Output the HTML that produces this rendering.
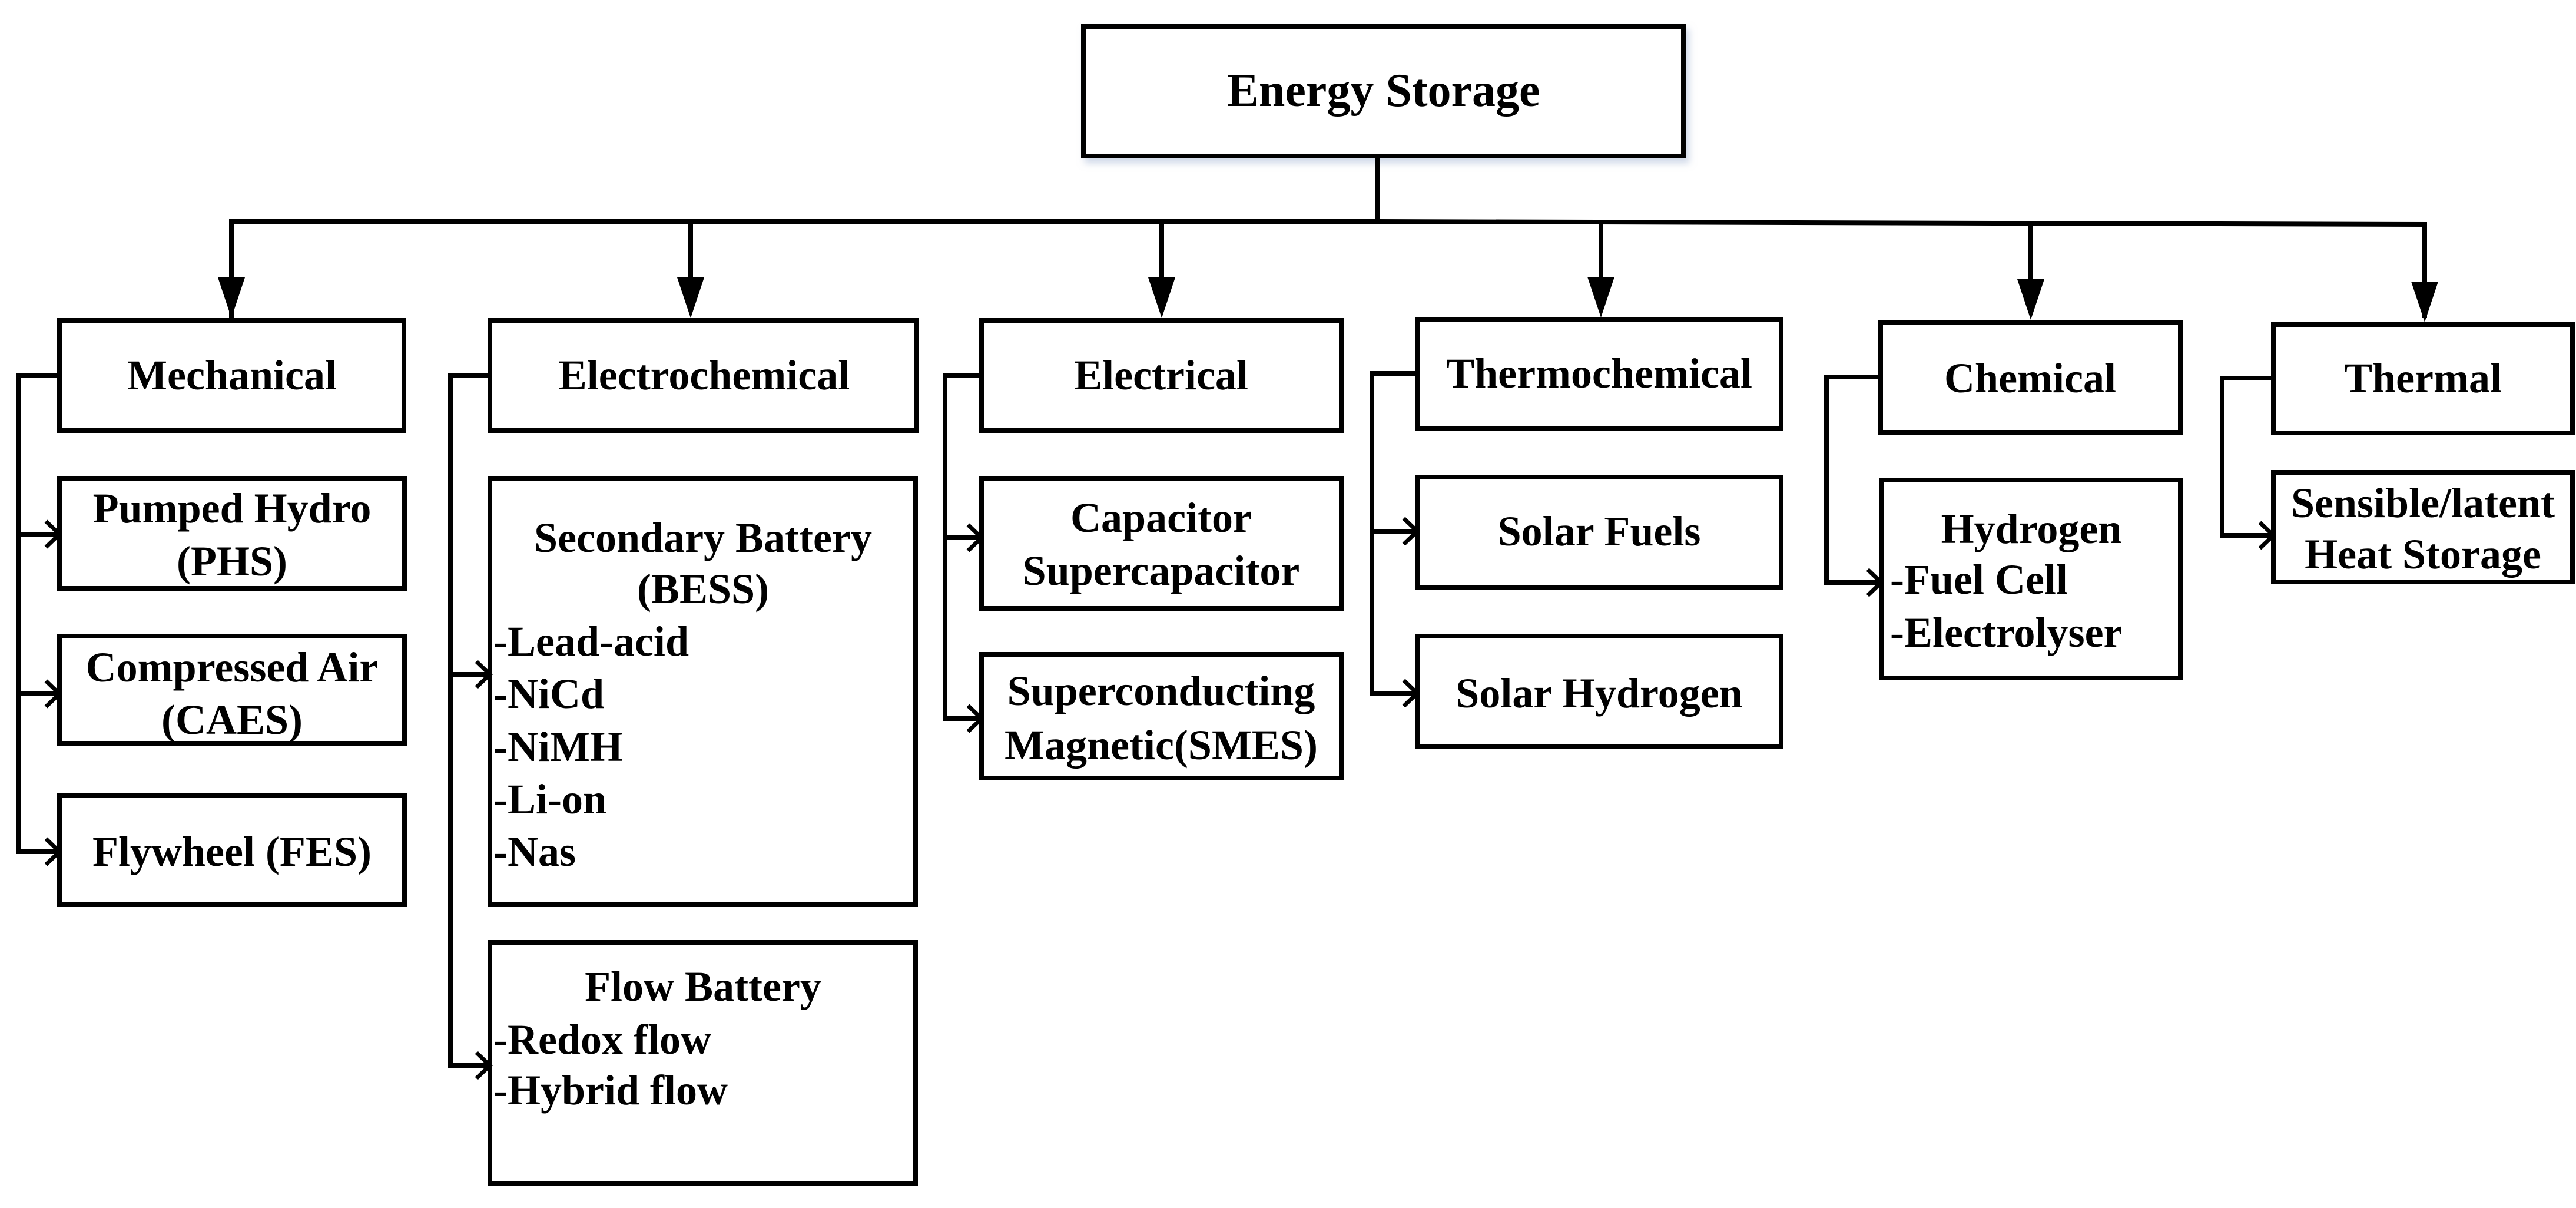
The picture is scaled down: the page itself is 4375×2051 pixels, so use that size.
<!DOCTYPE html>
<html><head><meta charset="utf-8"><style>
html,body{margin:0;padding:0;background:#fff;}
svg{display:block;}
text{font-family:"Liberation Serif",serif;font-weight:bold;fill:#000;}
</style></head><body>
<svg width="4375" height="2051" viewBox="0 0 4375 2051" xmlns="http://www.w3.org/2000/svg">
<defs>
<filter id="sh" x="-5%" y="-5%" width="115%" height="120%"><feDropShadow dx="6" dy="8" stdDeviation="6" flood-color="#9fb0d0" flood-opacity="0.5"/></filter>
</defs>
<g fill="none" stroke="#000" stroke-width="8">
<!-- top -->
<rect x="1840" y="45" width="1019" height="220" fill="#fff" filter="url(#sh)"/>
<line x1="2340" y1="265" x2="2340" y2="378"/>
<polyline points="393,540 393,376 2340,376 4118,381 4118,540"/>
<line x1="1173" y1="376" x2="1173" y2="480"/>
<line x1="1973" y1="376" x2="1973" y2="480"/>
<line x1="2719" y1="378" x2="2719" y2="480"/>
<line x1="3449" y1="379" x2="3449" y2="485"/>
<!-- category boxes -->
<rect x="101" y="544" width="585" height="187"/>
<rect x="832" y="544" width="725" height="187"/>
<rect x="1667" y="544" width="611" height="187"/>
<rect x="2407" y="543" width="618" height="185"/>
<rect x="3194" y="547" width="509" height="187"/>
<rect x="3861" y="551" width="508" height="184"/>
<!-- mechanical children -->
<rect x="101" y="812" width="586" height="187"/>
<rect x="101" y="1080" width="586" height="182"/>
<rect x="101" y="1351" width="586" height="185"/>
<polyline points="101,637 31,637 31,1446 101,1446"/>
<line x1="31" y1="907" x2="101" y2="907"/>
<line x1="31" y1="1178" x2="101" y2="1178"/>
<!-- electrochemical -->
<rect x="832" y="812" width="723" height="724"/>
<rect x="832" y="1600" width="723" height="410"/>
<polyline points="832,637 765,637 765,1809 832,1809"/>
<line x1="765" y1="1145" x2="832" y2="1145"/>
<!-- electrical -->
<rect x="1667" y="812" width="611" height="221"/>
<rect x="1667" y="1111" width="611" height="210"/>
<polyline points="1667,637 1605,637 1605,1220 1667,1220"/>
<line x1="1605" y1="913" x2="1667" y2="913"/>
<!-- thermochemical -->
<rect x="2407" y="810" width="618" height="187"/>
<rect x="2407" y="1080" width="618" height="188"/>
<polyline points="2407,634 2330,634 2330,1177 2407,1177"/>
<line x1="2330" y1="902" x2="2407" y2="902"/>
<!-- chemical -->
<rect x="3195" y="815" width="508" height="336"/>
<polyline points="3194,640 3102,640 3102,989 3195,989"/>
<!-- thermal -->
<rect x="3861" y="802" width="508" height="186"/>
<polyline points="3861,642 3774,642 3774,909 3861,909"/>
<!-- open arrowheads -->
<g stroke-width="7">
<polyline points="78,885 101,907 78,929"/>
<polyline points="78,1156 101,1178 78,1200"/>
<polyline points="78,1424 101,1446 78,1468"/>
<polyline points="809,1123 832,1145 809,1167"/>
<polyline points="809,1787 832,1809 809,1831"/>
<polyline points="1644,891 1667,913 1644,935"/>
<polyline points="1644,1198 1667,1220 1644,1242"/>
<polyline points="2384,880 2407,902 2384,924"/>
<polyline points="2384,1155 2407,1177 2384,1199"/>
<polyline points="3172,967 3195,989 3172,1011"/>
<polyline points="3838,887 3861,909 3838,931"/>
</g>
</g>
<!-- filled arrowheads -->
<g fill="#000">
<polygon points="370,471 416,471 393,540"/>
<polygon points="1150,471 1196,471 1173,540"/>
<polygon points="1950,471 1996,471 1973,540"/>
<polygon points="2696,470 2742,470 2719,539"/>
<polygon points="3426,474 3472,474 3449,543"/>
<polygon points="4095,478 4141,478 4118,547"/>
</g>
<g font-size="72" text-anchor="middle" dominant-baseline="central">
<text x="2350" y="154" font-size="80">Energy Storage</text>
<text x="394" y="637">Mechanical</text>
<text x="1196" y="637">Electrochemical</text>
<text x="1972" y="637">Electrical</text>
<text x="2716" y="634">Thermochemical</text>
<text x="3448" y="642">Chemical</text>
<text x="4115" y="642">Thermal</text>
<text x="394" y="863">Pumped Hydro</text>
<text x="394" y="953">(PHS)</text>
<text x="394" y="1133">Compressed Air</text>
<text x="394" y="1222">(CAES)</text>
<text x="394" y="1446">Flywheel (FES)</text>
<text x="1194" y="913">Secondary Battery</text>
<text x="1194" y="1000">(BESS)</text>
<text x="1194" y="1675">Flow Battery</text>
<text x="1972" y="879">Capacitor</text>
<text x="1972" y="969">Supercapacitor</text>
<text x="1972" y="1173">Superconducting</text>
<text x="1972" y="1265">Magnetic(SMES)</text>
<text x="2716" y="902">Solar Fuels</text>
<text x="2716" y="1177">Solar Hydrogen</text>
<text x="3450" y="898">Hydrogen</text>
<text x="4115" y="854">Sensible/latent</text>
<text x="4115" y="941">Heat Storage</text>
</g>
<g font-size="72" dominant-baseline="central">
<text x="838" y="1089">-Lead-acid</text>
<text x="838" y="1178">-NiCd</text>
<text x="838" y="1268">-NiMH</text>
<text x="838" y="1357">-Li-on</text>
<text x="838" y="1446">-Nas</text>
<text x="838" y="1765">-Redox flow</text>
<text x="838" y="1851">-Hybrid flow</text>
<text x="3210" y="984">-Fuel Cell</text>
<text x="3210" y="1074">-Electrolyser</text>
</g>
</svg>
</body></html>
